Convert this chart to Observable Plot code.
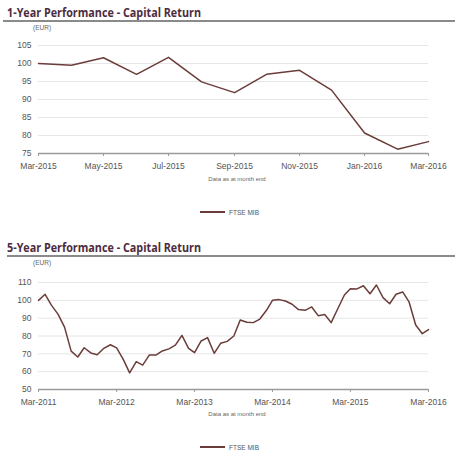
<!DOCTYPE html>
<html>
<head>
<meta charset="utf-8">
<script src="https://cdn.jsdelivr.net/npm/d3@7"></script>
<script src="https://cdn.jsdelivr.net/npm/@observablehq/plot@0.6"></script>
<style>
  html, body { margin: 0; padding: 0; background: #fff; }
  body { width: 474px; height: 462px; position: relative; overflow: hidden; font-family: "Liberation Sans", Arial, sans-serif; }
  .abs { position: absolute; }
  .rule { height: 0; border-top: 2px solid #8a8a8a; }
  .unit { font-size: 6.5px; color: #666; }
  .caption { font-size: 6px; color: #666; width: 474px; left: 0; text-align: center; }
  .legend { font-size: 6.5px; color: #555; display: flex; align-items: center; }
  .legend .sw { width: 25px; height: 0; border-top: 2px solid #6a3d3a; margin-right: 4px; }
</style>
</head>
<body>
<script>
// ---- data ----
const seriesName = "FTSE MIB";
const titles = ["1-Year Performance - Capital Return", "5-Year Performance - Capital Return"];
const unitLabel = "(EUR)";
const captionText = "Data as at month end";

const months1 = ["2015-03","2015-04","2015-05","2015-06","2015-07","2015-08","2015-09","2015-10","2015-11","2015-12","2016-01","2016-02","2016-03"];
const values1 = [100.0, 99.5, 101.6, 97.0, 101.7, 94.9, 91.9, 97.0, 98.1, 92.6, 80.7, 76.2, 78.3];
const xTicks1 = ["2015-03","2015-05","2015-07","2015-09","2015-11","2016-01","2016-03"];
const yTicks1 = [75, 80, 85, 90, 95, 100, 105];

const start2 = "2011-03";
const values2 = [
  100.0, 103.4, 97.2, 92.1, 85.0, 71.5, 68.2, 73.4, 70.5, 69.5, 73.1, 75.1,
  73.3, 66.9, 59.3, 65.6, 63.7, 69.3, 69.3, 71.6, 72.8, 74.9, 80.3, 73.1,
  70.7, 77.2, 79.1, 70.3, 75.9, 77.0, 80.0, 89.0, 87.7, 87.5, 89.5, 94.4,
  100.0, 100.4, 99.6, 97.8, 94.8, 94.4, 96.3, 91.4, 92.1, 87.5, 95.3, 103.0,
  106.5, 106.4, 108.2, 103.7, 108.6, 101.5, 98.1, 103.4, 104.7, 99.1, 86.2, 81.3,
  83.6
];
const xTicks2 = ["2011-03","2012-03","2013-03","2014-03","2015-03","2016-03"];
const yTicks2 = [50, 60, 70, 80, 90, 100, 110];

// ---- helpers ----
const parse = d3.utcParse("%Y-%m");
const fmt = d3.utcFormat("%b-%Y");
const lineColor = "#6a3d3a";

function addText(cls, css, text) {
  const el = document.createElement("div");
  el.className = "abs " + cls;
  Object.assign(el.style, css);
  el.textContent = text;
  document.body.appendChild(el);
  return el;
}

function addTitle(top, text, ruleLeft) {
  const ns = "http://www.w3.org/2000/svg";
  const svg = document.createElementNS(ns, "svg");
  svg.setAttribute("width", 474); svg.setAttribute("height", 22);
  svg.setAttribute("class", "abs");
  svg.style.left = "0px"; svg.style.top = top + "px";
  const t = document.createElementNS(ns, "text");
  t.setAttribute("x", 7); t.setAttribute("y", 16);
  t.setAttribute("font-family", "'Open Sans', 'Liberation Sans', Arial, sans-serif");
  t.setAttribute("font-weight", "bold");
  t.setAttribute("font-size", 12.5);
  t.setAttribute("fill", "#4d2c40");
  t.setAttribute("textLength", 194);
  t.setAttribute("lengthAdjust", "spacingAndGlyphs");
  t.textContent = text;
  svg.appendChild(t);
  document.body.appendChild(svg);
  const r = document.createElement("div");
  r.className = "abs rule";
  r.style.left = ruleLeft + "px"; r.style.width = (455 - ruleLeft) + "px"; r.style.top = (top + 19) + "px";
  document.body.appendChild(r);
}

function addLegend(top) {
  const el = document.createElement("div");
  el.className = "abs legend";
  el.style.left = "200px"; el.style.top = (top - 5) + "px"; el.style.height = "10px";
  const sw = document.createElement("div"); sw.className = "sw";
  const tx = document.createElement("span"); tx.textContent = seriesName;
  el.appendChild(sw); el.appendChild(tx);
  document.body.appendChild(el);
}

function makeChart({top, data, yDomain, yTicks, xTicks, marginTop, marginBottom}) {
  const chart = Plot.plot({
    width: 474,
    height: 150,
    marginLeft: 38,
    marginRight: 46,
    marginTop,
    marginBottom,
    style: { fontFamily: "'Liberation Sans', Arial, sans-serif", fontSize: "8.5px", color: "#555", background: "transparent" },
    x: { type: "utc", domain: [data[0].date, data[data.length - 1].date] },
    y: { domain: yDomain },
    marks: [
      Plot.ruleY(yTicks.slice(1), { stroke: "#e6e6e6", strokeWidth: 1 }),
      Plot.ruleY([yDomain[0]], { stroke: "#9a9a9a", strokeWidth: 1.6 }),
      Plot.axisY({ ticks: yTicks, tickSize: 0, tickPadding: 7, label: null, tickFormat: d => d, fill: "#555" }),
      Plot.axisX({ ticks: xTicks.map(parse), tickSize: 3, tickPadding: 6, tickFormat: fmt, label: null, stroke: "#9a9a9a", fill: "#555" }),
      Plot.line(data, { x: "date", y: "value", stroke: lineColor, strokeWidth: 1.5 })
    ]
  });
  chart.classList.add("abs");
  chart.style.left = "0px";
  chart.style.top = top + "px";
  document.body.appendChild(chart);
}

// ---- chart 1 ----
const data1 = months1.map((m, i) => ({ date: parse(m), value: values1[i] }));
addTitle(1, titles[0], 3);
addText("unit", { left: "33px", top: "24px" }, unitLabel);
makeChart({ top: 22, data: data1, yDomain: [75, 105], yTicks: yTicks1, xTicks: xTicks1, marginTop: 23, marginBottom: 19 });
addText("caption", { top: "176px" }, captionText);
addLegend(212);

// ---- chart 2 ----
const months2 = values2.map((_, i) => d3.utcMonth.offset(parse(start2), i));
const data2 = values2.map((v, i) => ({ date: months2[i], value: v }));
addTitle(236, titles[1], 7);
addText("unit", { left: "33px", top: "259px" }, unitLabel);
makeChart({ top: 258, data: data2, yDomain: [50, 110], yTicks: yTicks2, xTicks: xTicks2, marginTop: 24, marginBottom: 19 });
addText("caption", { top: "411px" }, captionText);
addLegend(447);
</script>
</body>
</html>
